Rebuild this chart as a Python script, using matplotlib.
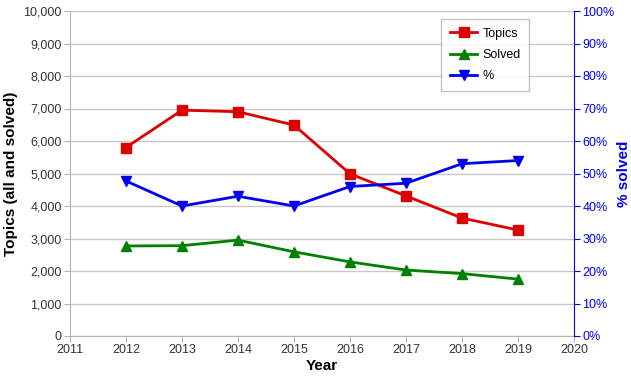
import matplotlib.pyplot as plt
from matplotlib.ticker import FuncFormatter

plt.rcParams['font.family'] = ['Liberation Sans', 'DejaVu Sans']

years = [2012, 2013, 2014, 2015, 2016, 2017, 2018, 2019]
topics = [5800, 6950, 6900, 6490, 4990, 4310, 3630, 3260]
solved = [2770, 2780, 2950, 2590, 2280, 2030, 1920, 1750]
percent = [47.7, 40.0, 43.0, 40.0, 46.0, 47.0, 53.0, 54.0]

fig = plt.figure(figsize=(6.31, 3.83), dpi=100)
ax = fig.add_axes([70 / 631, 1 - 336 / 383, 504 / 631, 325 / 383])
ax2 = ax.twinx()

ax.plot(years, topics, color='#dd0000', marker='s', markersize=7, lw=2, label='Topics')
ax.plot(years, solved, color='#008000', marker='^', markersize=7, lw=2, label='Solved')
ax2.plot(years, percent, color='#0000ee', marker='v', markersize=7, lw=2, label='%')

ax.set_xlim(2011, 2020)
ax.set_ylim(0, 10000)
ax.set_yticks(range(0, 10001, 1000))
ax.set_xticks(range(2011, 2021))
ax.yaxis.set_major_formatter(FuncFormatter(lambda v, p: f'{int(v):,}'))
ax2.set_ylim(0, 100)
ax2.set_yticks(range(0, 101, 10))
ax2.yaxis.set_major_formatter(FuncFormatter(lambda v, p: f'{int(v)}%'))

ax.grid(axis='y', color='#c8c8c8', lw=1)
ax.set_axisbelow(True)
ax.spines['top'].set_visible(False)
ax2.spines['top'].set_visible(False)
ax.spines['left'].set_color('#b3b3b3')
ax.spines['bottom'].set_color('#b3b3b3')
ax.spines['right'].set_visible(False)
ax2.spines['left'].set_visible(False)
ax2.spines['bottom'].set_visible(False)
ax2.spines['right'].set_color('#0000ee')

ax.tick_params(axis='both', labelsize=9, color='#b3b3b3', length=4, labelcolor='#333333', pad=2)
ax2.tick_params(axis='y', labelsize=9, color='#0000ee', length=4, labelcolor='#0000ee', pad=2)

ax.set_xlabel('Year', fontsize=11, fontweight='bold', labelpad=2)
ax.set_ylabel('Topics (all and solved)', fontsize=11, fontweight='bold', labelpad=4)
ax2.set_ylabel('% solved', fontsize=11, fontweight='bold', color='#0000ee', labelpad=2)

h1, l1 = ax.get_legend_handles_labels()
h2, l2 = ax2.get_legend_handles_labels()
ax2.legend(h1 + h2, l1 + l2, loc='upper left', bbox_to_anchor=(365 / 504, 0.995),
           fontsize=9, frameon=True, fancybox=False, edgecolor='#b3b3b3',
           handlelength=2.2, handletextpad=0.4, borderpad=0.7, labelspacing=0.75)

fig.savefig('out.png', dpi=100)
